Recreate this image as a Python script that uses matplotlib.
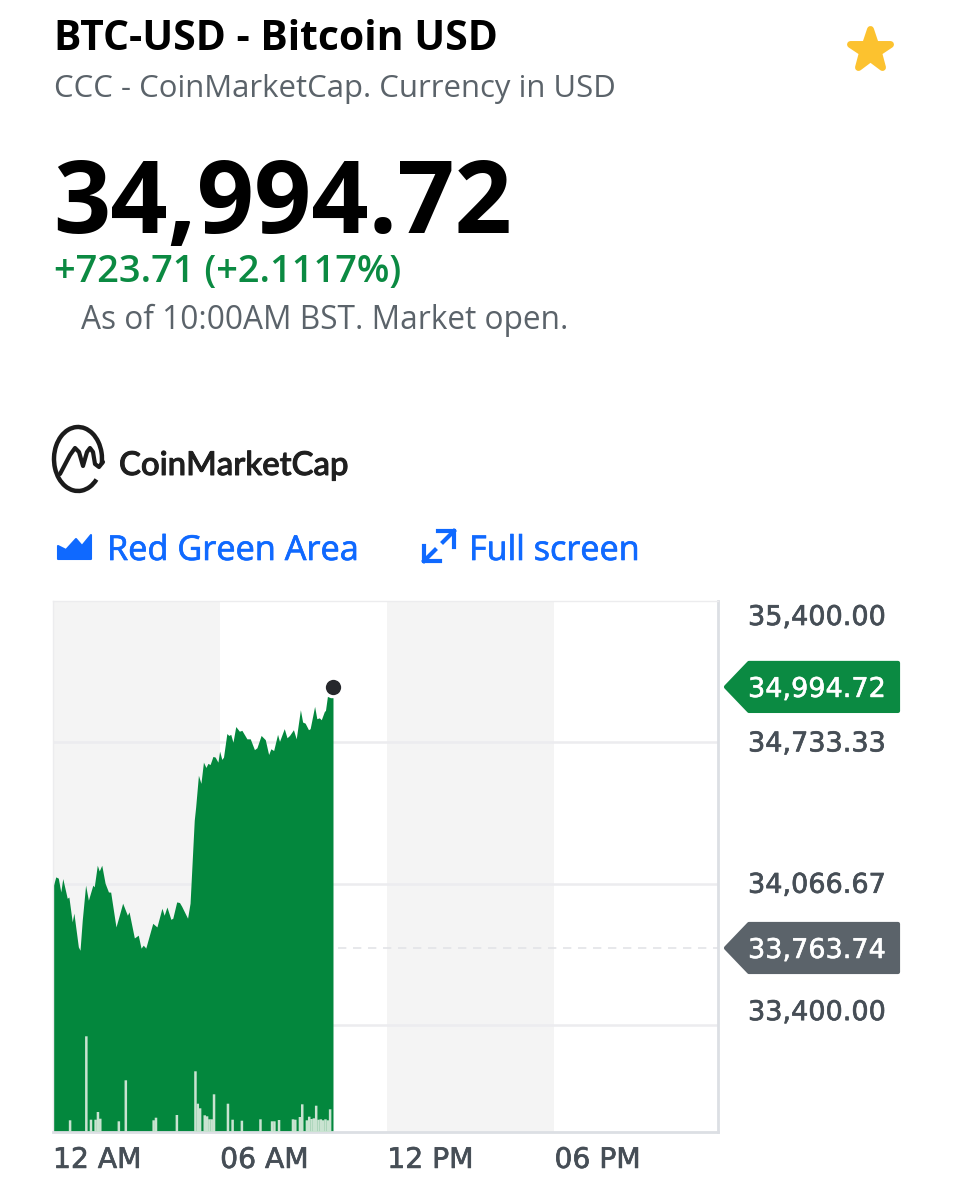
import matplotlib
matplotlib.use('Agg')
import matplotlib.pyplot as plt
from matplotlib.markers import MarkerStyle
from matplotlib.patches import Polygon, Arc
import matplotlib.patheffects as pe

# Price series, hours since midnight
hours = [0.00, 0.10, 0.19, 0.28, 0.35, 0.47, 0.51, 0.57, 0.69, 0.75, 0.91, 0.97, 1.05, 1.17, 1.27, 1.43, 1.48, 1.59,
         1.66, 1.75, 1.87, 1.99, 2.07, 2.26, 2.35, 2.50, 2.67, 2.73, 2.92, 3.06, 3.16, 3.24, 3.33, 3.58, 3.73, 3.91,
         3.99, 4.09, 4.23, 4.30, 4.44, 4.54, 4.62, 4.83, 4.92, 5.07, 5.12, 5.22, 5.31, 5.40, 5.49, 5.56, 5.64, 5.74,
         5.82, 5.92, 5.98, 6.06, 6.12, 6.24, 6.31, 6.38, 6.46, 6.56, 6.69, 6.78, 6.96, 7.08, 7.23, 7.32, 7.47, 7.62,
         7.74, 7.82, 7.92, 8.06, 8.13, 8.30, 8.40, 8.49, 8.63, 8.73, 8.88, 8.96, 9.05, 9.17, 9.23, 9.39, 9.47, 9.56,
         9.63, 9.74, 9.78, 9.85, 9.96, 10.05]
prices = [34052, 34099, 34093, 34028, 34091, 34022, 33998, 34004, 33887, 33928, 33769, 33753, 33895, 34060, 33989,
          34060, 34052, 34154, 34127, 34154, 34069, 34028, 34027, 33863, 33904, 33975, 33918, 33934, 33811, 33824,
          33763, 33777, 33763, 33880, 33863, 33951, 33918, 33957, 33899, 33904, 33981, 33978, 33960, 33904, 33975,
          34366, 34428, 34578, 34540, 34640, 34615, 34634, 34629, 34667, 34664, 34640, 34692, 34653, 34664, 34775,
          34766, 34771, 34734, 34808, 34786, 34790, 34750, 34750, 34699, 34708, 34766, 34746, 34676, 34703, 34695,
          34771, 34738, 34798, 34755, 34766, 34793, 34750, 34887, 34829, 34824, 34793, 34798, 34903, 34845, 34849,
          34840, 34879, 34884, 34950, 34944, 34944]

# Volume bars: 5 minute slot number and height
vol_slots = [7, 14, 16, 18, 19, 20, 28, 31, 43, 44, 53, 61, 62, 63, 65, 66, 67, 68, 69, 75, 77, 81, 89, 94, 95, 97,
             103, 104, 106, 107, 109, 110, 111, 112, 113, 114, 115, 116, 117, 118, 119]
volumes = [11.7, 95.7, 12.3, 12.3, 20, 13.3, 10.7, 51.7, 11.7, 14.3, 17, 60.7, 28.3, 23.7, 16.7, 15.7, 12.7, 12.7,
           37.7, 28.3, 12.3, 11.3, 12.7, 10.7, 10.7, 12, 12.7, 12.3, 15, 27.7, 11.7, 15.3, 13, 13.7, 26.3, 12.3,
           12.7, 11.7, 12.7, 11.7, 22.7]

last_price = 34994.72
prev_close = 33763.74
grid_values = [34733.33, 34066.67, 33400.00]
y_tick_values = [35400.00, 34733.33, 34066.67, 33400.00]
y_tick_nudge = [14, -1, -1, -15]
x_ticks = [0, 6, 12, 18]
x_labels = ['12 AM', '06 AM', '12 PM', '06 PM']

GREEN = '#03873d'
TAG_GREEN = '#0b8a42'
GRAY = '#5b636a'
TICK = '#464e56'
BLUE = '#0f69ff'
LINE = '#ececef'
BAND = '#f4f4f4'
STAR = '#fcc22f'
UI = 'Open Sans'
NUM = 'DejaVu Sans'


def thick(col, w=0.5):
    return [pe.withStroke(linewidth=w, foreground=col)]


W, H = 961, 1200
fig = plt.figure(figsize=(W / 100, H / 100), dpi=100, facecolor='white')

# Overlay in pixel coordinates for the page furniture
page = fig.add_axes([0, 0, 1, 1])
page.set_xlim(0, W)
page.set_ylim(H, 0)
page.axis('off')

# Chart area
L, R, T, B = 53, 718, 601, 1132
ax = fig.add_axes([L / W, 1 - B / H, (R - L) / W, (B - T) / H])
ymin, ymax = 32896, 35400
xmax = (R - L) / 27.86
ax.set_xlim(0, xmax)
ax.set_ylim(ymin, ymax)
ax.patch.set_alpha(0)
for s in ['left', 'top']:
    ax.spines[s].set_color('#ececee')
    ax.spines[s].set_linewidth(1)
for s in ['right', 'bottom']:
    ax.spines[s].set_color('#dcdfe4')
    ax.spines[s].set_linewidth(2)

for start in [0, 12]:
    ax.axvspan(start, start + 6, color=BAND, lw=0, zorder=0)
ax.hlines(grid_values, 0, xmax, color=LINE, lw=1.8, zorder=1)
ax.hlines(prev_close, 0, xmax, color='#e3e4e7', lw=1.2, linestyles=(0, (5, 4)), zorder=1)
ax.fill_between(hours, prices, ymin, color=GREEN, lw=0, zorder=2)
ax.plot([hours[-1]], [last_price], 'o', color='#26282c', ms=11, mew=0, zorder=5, clip_on=False)

ax.set_xticks(x_ticks)
ax.set_xticklabels(x_labels, ha='left', fontsize=20.3, color=TICK, family=NUM, path_effects=thick(TICK))
ax.tick_params(axis='x', length=0, pad=10)
ax.set_yticks([])

# Volume bars sit on the same time axis
vol = ax.twinx()
vol.set_ylim(0, B - T)
vol.set_yticks([])
vol.patch.set_alpha(0)
for s in vol.spines.values():
    s.set_visible(False)
bars = vol.bar([s / 12 + 0.03 for s in vol_slots], volumes, width=0.09, color='#c9e3d1', lw=0, zorder=3)
for b in bars:
    b.set_snap(False)


def price_y(v):
    return T + (ymax - v) / (ymax - ymin) * (B - T)


# Right hand price labels
for v, nudge in zip(y_tick_values, y_tick_nudge):
    page.text(748, price_y(v) + nudge, f'{v:,.2f}', fontsize=19.5, color=TICK, family=NUM,
              ha='left', va='center_baseline', path_effects=thick(TICK))

# Price tags
for v, col in [(last_price, TAG_GREEN), (prev_close, GRAY)]:
    y = price_y(v)
    page.add_patch(Polygon([(726, y), (749, y - 24), (898, y - 24), (898, y + 24), (749, y + 24)],
                           closed=True, fc=col, ec=col, lw=3, joinstyle='round', zorder=6))
    page.text(748, y, f'{v:,.2f}', fontsize=19.5, color='white', family=NUM, ha='left',
              va='center_baseline', zorder=7, path_effects=thick('white', 0.4))

# Header
page.text(54, 34, 'BTC-USD - Bitcoin USD', fontsize=29.4, fontweight='bold', color='black', family=UI,
          ha='left', va='center_baseline')
page.text(54, 85, 'CCC - CoinMarketCap. Currency in USD', fontsize=22.4, color=GRAY, family=UI,
          ha='left', va='center_baseline')
page.text(53, 195, f'{last_price:,.2f}', fontsize=72.3, fontweight='bold', color='black', family=UI,
          ha='left', va='center_baseline')
page.text(54, 268, '+723.71 (+2.1117%)', fontsize=27.3, fontweight='semibold', color=TAG_GREEN, family=UI,
          ha='left', va='center_baseline')
page.text(81, 316, 'As of 10:00AM BST. Market open.', fontsize=22.75, color=GRAY, family=UI,
          ha='left', va='center_baseline')
page.plot([870], [50], marker=MarkerStyle('*', joinstyle='round'), ms=30, color=STAR, mec=STAR, mew=5, ls='')

# CoinMarketCap logo
page.add_patch(Arc((78, 459), 48, 64, theta1=48, theta2=372, ec='#1b1b1b', lw=3.2))
page.plot([60, 70, 75, 79, 83, 87, 90, 93, 95, 99, 103], [474, 455, 448, 452, 466, 452, 448, 452, 464, 467, 462],
          color='#1b1b1b', lw=3, solid_joinstyle='round', solid_capstyle='round')
page.text(119, 463, 'CoinMarketCap', fontsize=23.7, fontweight='medium', color='#1f1f1f', family='Lato',
          ha='left', va='center_baseline', path_effects=thick('#1f1f1f', 0.7))

# Toolbar
page.add_patch(Polygon([(58, 546), (66, 550), (76, 539), (82, 546), (91, 535), (91, 559), (58, 559)],
                       closed=True, fc=BLUE, ec=BLUE, lw=1.5, joinstyle='round'))
page.text(107, 547, 'Red Green Area', fontsize=24.7, color=BLUE, family=UI, ha='left', va='center_baseline',
          path_effects=thick(BLUE))
for xs, ys in [([438, 454, 454], [531, 531, 547]), ([424, 424, 440], [546, 561, 561]),
               ([454, 443], [531, 542]), ([424, 435], [561, 550])]:
    page.plot(xs, ys, color=BLUE, lw=3, solid_joinstyle='miter')
page.text(469, 547, 'Full screen', fontsize=24.6, color=BLUE, family=UI, ha='left', va='center_baseline',
          path_effects=thick(BLUE))

fig.savefig('out.png', dpi=100, facecolor='white')
